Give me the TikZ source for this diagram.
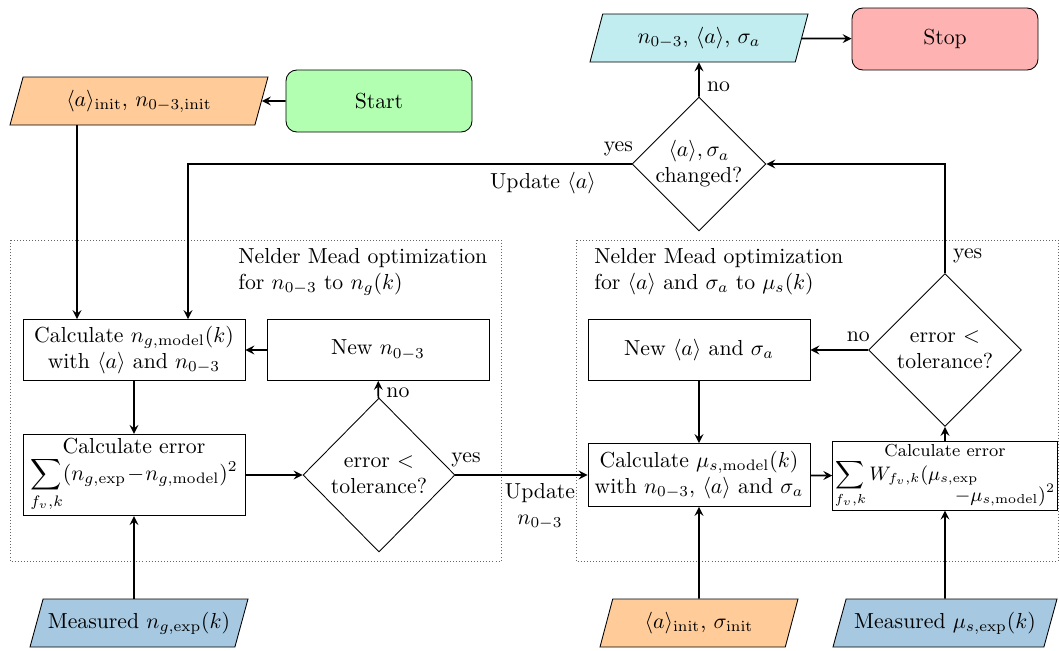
\documentclass[tikz,border=0pt]{standalone}
\usepackage{amsmath}
\usetikzlibrary{shapes.geometric}

\definecolor{outcyan}{RGB}{193,236,240}
\definecolor{measblue}{RGB}{166,200,225}
\newcommand{\pxu}{0.46pt}

\begin{document}
\begin{tikzpicture}[x=\pxu,y=-\pxu,>=stealth,
  procbox/.style={draw,align=center,minimum width=222*\pxu,minimum height=61*\pxu,inner sep=2pt},
  termbox/.style={draw,rounded corners=5pt,minimum width=186*\pxu,minimum height=62*\pxu},
  iobox/.style={draw,trapezium,trapezium left angle=64,trapezium right angle=116,
    trapezium stretches body,minimum height=48*\pxu,inner sep=1pt},
  decbox/.style={draw,diamond,align=center,inner sep=0pt},
  flow/.style={->,thick}]
\useasboundingbox (0,0) rectangle (1059,650);

% optimisation regions
\draw[densely dotted,black!60] (10,240) rectangle (501,561);
\draw[densely dotted,black!60] (576,240) rectangle (1058,561);
\node[anchor=north west,align=left,inner sep=0pt] (titleng) at (238,248)
  {Nelder Mead optimization\\for $n_{0-3}$ to $n_g(k)$};
\node[anchor=north west,align=left,inner sep=0pt] (titlemu) at (594,248)
  {Nelder Mead optimization\\for $\langle a\rangle$ and $\sigma_a$ to $\mu_s(k)$};

% terminals and inputs/outputs
\node[termbox,fill=green!30] (start) at (379,101) {Start};
\node[iobox,fill=orange!40,minimum width=258*\pxu] (init) at (139,101)
  {$\langle a\rangle_{\mathrm{init}}$, $n_{0-3,\mathrm{init}}$};
\node[iobox,fill=outcyan,minimum width=218*\pxu] (out) at (699,38)
  {$n_{0-3}$, $\langle a\rangle$, $\sigma_a$};
\node[termbox,fill=red!30] (stop) at (945,39) {Stop};
\node[decbox,minimum width=130*\pxu,minimum height=132*\pxu] (changed) at (699,164)
  {$\langle a\rangle,\sigma_a$\\changed?};

% left loop
\node[procbox] (calcng) at (134,350)
  {Calculate $n_{g,\mathrm{model}}(k)$\\with $\langle a\rangle$ and $n_{0-3}$};
\node[procbox] (newn) at (378,350) {New $n_{0-3}$};
\node[procbox,minimum height=76*\pxu] (errng) at (134,475)
  {Calculate error\\$\displaystyle\sum_{f_v,k}(n_{g,\exp}\!-\!n_{g,\mathrm{model}})^2$};
\node[decbox,minimum width=152*\pxu,minimum height=154*\pxu] (tol) at (379,475)
  {error $<$\\tolerance?};
\node[iobox,fill=measblue,minimum width=218*\pxu] (measng) at (139,623)
  {Measured $n_{g,\exp}(k)$};

% right loop
\node[procbox] (newa) at (699,350) {New $\langle a\rangle$ and $\sigma_a$};
\node[decbox,minimum width=153*\pxu,minimum height=153*\pxu] (tolb) at (945,350)
  {error $<$\\tolerance?};
\node[procbox,minimum height=63*\pxu] (calcmu) at (699,475)
  {Calculate $\mu_{s,\mathrm{model}}(k)$\\with $n_{0-3}$, $\langle a\rangle$ and $\sigma_a$};
\node[procbox,minimum height=63*\pxu,inner sep=1pt] (errmu) at (945,476)
  {\footnotesize Calculate error\\[-1pt]
   \small$\displaystyle\sum_{f_v,k}W_{f_v,k}(\mu_{s,\exp}\hspace{-1.2em}\raisebox{-2.5ex}{$-\mu_{s,\mathrm{model}})^2$}$};
\node[iobox,fill=orange!40,minimum width=198*\pxu] (inita) at (699,623)
  {$\langle a\rangle_{\mathrm{init}}$, $\sigma_{\mathrm{init}}$};
\node[iobox,fill=measblue,minimum width=224*\pxu] (measmu) at (945,623)
  {Measured $\mu_{s,\exp}(k)$};

\coordinate (ngin) at ([xshift=-57*\pxu]calcng.north);
\coordinate (ngupd) at ([xshift=54*\pxu]calcng.north);

% connectors
\draw[flow] (start) -- (init);
\draw[flow] (ngin |- init.south) -- (ngin);
\draw[flow] (changed.west) -- node[pos=0.03,above] {yes}
  node[pos=0.2,below] {Update $\langle a\rangle$} (changed.west -| ngupd) -- (ngupd);
\draw[flow] (changed) -- node[right,pos=0.3] {no} (out);
\draw[flow] (out) -- (stop);
\draw[flow] (calcng) -- (errng);
\draw[flow] (errng) -- (tol);
\draw[flow] (tol) -- node[right,pos=0.3] {no} (newn);
\draw[flow] (newn) -- (calcng);
\draw[flow] (measng.north -| errng) -- (errng);
\draw[flow] (tol.east) -- node[pos=0.08,above] {yes}
  node[pos=0.64,below,align=center] {Update\\$n_{0-3}$} (calcmu.west |- tol.east);
\draw[flow] (calcmu) -- (errmu);
\draw[flow] (errmu) -- (tolb);
\draw[flow] (tolb.west) -- node[pos=0.17,above] {no} (newa);
\draw[flow] (tolb.north) |- node[pos=0.08,right] {yes} (changed.east);
\draw[flow] (newa) -- (calcmu);
\draw[flow] (inita) -- (calcmu);
\draw[flow] (measmu) -- (errmu);

\end{tikzpicture}
\end{document}
